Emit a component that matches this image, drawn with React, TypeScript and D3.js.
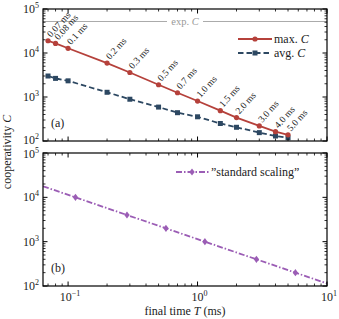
import React from 'react';
import * as d3 from 'd3';

// final times (ms) and cooperativities, panel (a)
const times = [0.07, 0.08, 0.1, 0.2, 0.3, 0.5, 0.7, 1.0, 1.5, 2.0, 3.0, 4.0, 5.0];
const timeLabels = ['0.07 ms', '0.08 ms', '0.1 ms', '0.2 ms', '0.3 ms', '0.5 ms', '0.7 ms', '1.0 ms', '1.5 ms', '2.0 ms', '3.0 ms', '4.0 ms', '5.0 ms'];
const maxC = [19000, 16500, 12800, 5900, 3600, 1900, 1250, 810, 490, 340, 220, 163, 138];
const avgC = [3000, 2650, 2330, 1280, 890, 590, 440, 355, 250, 205, 155, 130, 118];
const expC = 52000;

// panel (b) "standard scaling"
const stdT = [0.114, 0.285, 0.57, 1.14, 2.85, 5.7];
const stdC = [10000, 4000, 2000, 1000, 400, 200];
const stdLineT = [0.064, 10];
const stdLineC = [17800, 114];

const xTicks = [0.1, 1, 10];
const xTickExp = ['−1', '0', '1'];
const yTicks = [100, 1000, 10000, 100000];
const yTickExp = ['2', '3', '4', '5'];

const W = 339;
const H = 319;
const left = 43;
const right = 327;
const panels = [
  { top: 9, bottom: 141 },
  { top: 153, bottom: 286 },
];

const RED = '#b5413b';
const BLUE = '#2d4862';
const PURPLE = '#9b5db5';
const FONT = "'Liberation Serif', 'Times New Roman', serif";

const x = d3.scaleLog().domain([0.064, 10]).range([left, right]);

function minorTicks(lo: number, hi: number): number[] {
  const out: number[] = [];
  for (let p = Math.floor(Math.log10(lo)); p <= Math.ceil(Math.log10(hi)); p++) {
    for (let m = 2; m <= 9; m++) {
      const v = m * Math.pow(10, p);
      if (v > lo && v < hi) out.push(v);
    }
  }
  return out;
}

function Frame({ y, top, bottom }: { y: d3.ScaleLogarithmic<number, number>; top: number; bottom: number }) {
  const xMinor = minorTicks(0.064, 10);
  const yMinor = minorTicks(100, 100000);
  return (
    <g stroke="#000" strokeWidth={1}>
      <rect x={left} y={top} width={right - left} height={bottom - top} fill="none" strokeWidth={1.2} />
      {xTicks.map(t => (
        <g key={'xm' + t}>
          <line x1={x(t)} x2={x(t)} y1={bottom} y2={bottom - 4.5} />
          <line x1={x(t)} x2={x(t)} y1={top} y2={top + 4.5} />
        </g>
      ))}
      {xMinor.map(t => (
        <g key={'xn' + t}>
          <line x1={x(t)} x2={x(t)} y1={bottom} y2={bottom - 2.5} strokeWidth={0.8} />
          <line x1={x(t)} x2={x(t)} y1={top} y2={top + 2.5} strokeWidth={0.8} />
        </g>
      ))}
      {yTicks.map(t => (
        <g key={'ym' + t}>
          <line x1={left} x2={left + 4.5} y1={y(t)} y2={y(t)} />
          <line x1={right} x2={right - 4.5} y1={y(t)} y2={y(t)} />
        </g>
      ))}
      {yMinor.map(t => (
        <g key={'yn' + t}>
          <line x1={left} x2={left + 2.5} y1={y(t)} y2={y(t)} strokeWidth={0.8} />
          <line x1={right} x2={right - 2.5} y1={y(t)} y2={y(t)} strokeWidth={0.8} />
        </g>
      ))}
    </g>
  );
}

function YLabels({ y, shift }: { y: d3.ScaleLogarithmic<number, number>; shift: (t: number) => number }) {
  return (
    <g fill="#222">
      {yTicks.map((t, i) => (
        <text key={t} x={39} y={y(t) + 4 + shift(t)} textAnchor="end" fontSize={12}>
          10<tspan fontSize={8} dy={-5}>{yTickExp[i]}</tspan>
        </text>
      ))}
    </g>
  );
}

function Square({ cx, cy, s }: { cx: number; cy: number; s: number }) {
  return <rect x={cx - s / 2} y={cy - s / 2} width={s} height={s} fill={BLUE} />;
}

function Diamond({ cx, cy, s }: { cx: number; cy: number; s: number }) {
  return <path d={`M${cx},${cy - s}L${cx + s * 0.75},${cy}L${cx},${cy + s}L${cx - s * 0.75},${cy}Z`} fill={PURPLE} />;
}

export default function App() {
  const yA = d3.scaleLog().domain([100, 100000]).range([panels[0].bottom, panels[0].top]);
  const yB = d3.scaleLog().domain([100, 100000]).range([panels[1].bottom, panels[1].top]);

  const lineA = d3.line<number>().x((_, i) => x(times[i])).y(d => yA(d));
  const lineStd = d3.line<number>().x((_, i) => x(stdLineT[i])).y(d => yB(d));

  const expY = yA(expC);

  return (
    <svg width={W} height={H} style={{ position: 'fixed', left: 0, top: 0, background: '#fff', fontFamily: FONT }}>
      <style>{`text { font-family: ${FONT}; }`}</style>
      {/* panel (a) */}
      <line x1={left} x2={167} y1={expY} y2={expY} stroke="#aaa" strokeWidth={1} />
      <line x1={203} x2={right} y1={expY} y2={expY} stroke="#aaa" strokeWidth={1} />
      <text x={185} y={expY + 3.5} textAnchor="middle" fontSize={10.5} fill="#999">
        exp. <tspan fontStyle="italic">C</tspan>
      </text>

      <path d={lineA(avgC) ?? ''} fill="none" stroke={BLUE} strokeWidth={1.8} strokeDasharray="5.5,3" />
      {avgC.map((c, i) => <Square key={i} cx={x(times[i])} cy={yA(c)} s={5} />)}
      <path d={lineA(maxC) ?? ''} fill="none" stroke={RED} strokeWidth={1.8} />
      {maxC.map((c, i) => <circle key={i} cx={x(times[i])} cy={yA(c)} r={2.6} fill={RED} />)}

      {maxC.map((c, i) => (
        <text key={'l' + i} fontSize={9.5} fill="#222"
          transform={`translate(${x(times[i]) + 3},${yA(c) - 3}) rotate(-48)`}>
          {timeLabels[i]}
        </text>
      ))}

      {/* legend (a) */}
      <line x1={238} x2={272} y1={39} y2={39} stroke={RED} strokeWidth={1.8} />
      <circle cx={255} cy={39} r={2.6} fill={RED} />
      <text x={274} y={43} fontSize={12} fill="#222">max. <tspan fontStyle="italic">C</tspan></text>
      <line x1={238} x2={272} y1={53} y2={53} stroke={BLUE} strokeWidth={1.8} strokeDasharray="5.5,3" />
      <Square cx={255} cy={53} s={5} />
      <text x={274} y={57} fontSize={12} fill="#222">avg. <tspan fontStyle="italic">C</tspan></text>

      <text x={51} y={127} fontSize={12} fill="#222">(a)</text>
      <Frame y={yA} top={panels[0].top} bottom={panels[0].bottom} />
      <YLabels y={yA} shift={t => (t === 100 ? -1 : 0)} />

      {/* panel (b) */}
      <defs>
        <clipPath id="clipB">
          <rect x={left} y={panels[1].top} width={right - left} height={panels[1].bottom - panels[1].top} />
        </clipPath>
      </defs>
      <path d={lineStd(stdLineC) ?? ''} fill="none" stroke={PURPLE} strokeWidth={1.8}
        strokeDasharray="6,2,1.5,2" clipPath="url(#clipB)" />
      {stdC.map((c, i) => <Diamond key={i} cx={x(stdT[i])} cy={yB(c)} s={3.6} />)}

      <line x1={176} x2={210} y1={172} y2={172} stroke={PURPLE} strokeWidth={1.8} strokeDasharray="6,2,1.5,2" />
      <Diamond cx={192} cy={172} s={3.6} />
      <text x={211} y={176} fontSize={12} fill="#222">”standard scaling”</text>

      <text x={51} y={272} fontSize={12} fill="#222">(b)</text>
      <Frame y={yB} top={panels[1].top} bottom={panels[1].bottom} />
      <YLabels y={yB} shift={t => (t === 100000 ? 1 : 0)} />

      {/* x tick labels */}
      {xTicks.map((t, i) => (
        <text key={t} x={x(t) + 2} y={301} textAnchor="middle" fontSize={12} fill="#222">
          10<tspan fontSize={8} dy={-5}>{xTickExp[i]}</tspan>
        </text>
      ))}

      <text x={185} y={315} textAnchor="middle" fontSize={12} fill="#222">
        final time <tspan fontStyle="italic">T</tspan> (ms)
      </text>
      <text transform="translate(11,152) rotate(-90)" textAnchor="middle" fontSize={12} fill="#222">
        cooperativity <tspan fontStyle="italic">C</tspan>
      </text>
    </svg>
  );
}
